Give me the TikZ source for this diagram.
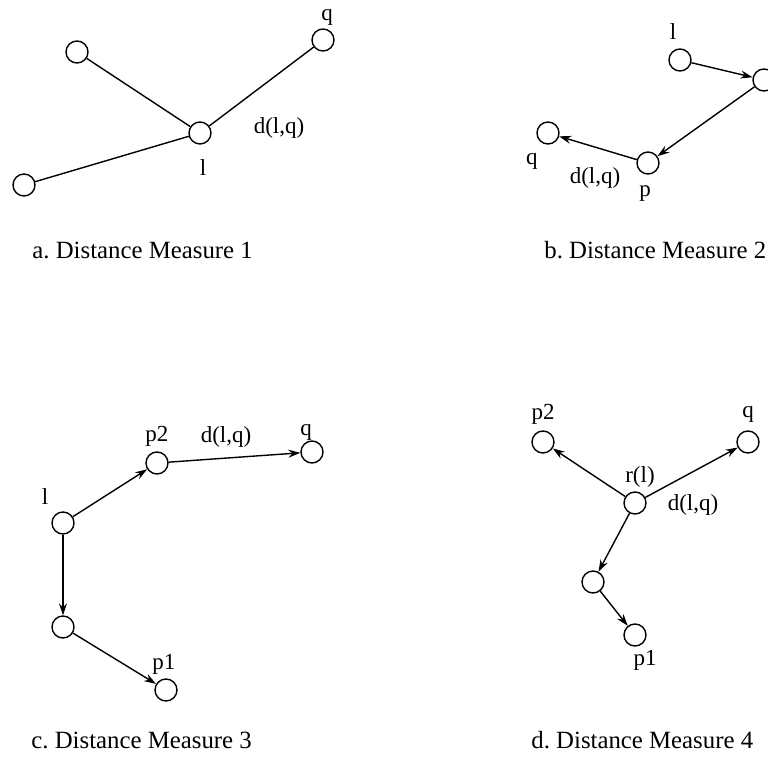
\documentclass[tikz,border=0pt]{standalone}
\usepackage{fontspec}
\setmainfont{Liberation Serif}
\usetikzlibrary{arrows.meta}

\begin{document}
\begin{tikzpicture}[x=0.5pt,y=-0.5pt,
     vert/.style={draw,circle,minimum size=11pt,inner sep=0pt,line width=0.7pt},
     lab/.style={font=\fontsize{11.5}{13}\selectfont,inner sep=0pt},
     capt/.style={font=\fontsize{12.4}{14}\selectfont,anchor=west,inner sep=0pt},
     arr/.style={line width=0.7pt,-{Stealth[length=6pt,width=4pt,inset=2pt]}}
     ]
%frame of the whole figure, the right hand circle of b is cut by it
\clip (0,0) rectangle (768,759);

%a. Distance Measure 1
\node[vert] (a1) at (77,52) {};
\node[vert] (a2) at (24,185) {};
\node[vert] (al) at (200,133) {};
\node[vert] (aq) at (323,40) {};
\node[lab] (al-t) at (203,168) {l};
\node[lab] (aq-t) at (327,17) {q};
\node[lab] (ad-t) at (279,128) {d(l,q)};
\foreach \s in {a1,a2,aq}
   \draw[line width=0.7pt] (\s) -- (al);
\node[capt] (acap) at (32,250) {a.\ Distance Measure 1};

%b. Distance Measure 2
\node[vert] (bl) at (680,60) {};
\node[vert] (bm) at (764,80) {};
\node[vert] (bp) at (648,163) {};
\node[vert] (bq) at (548,133) {};
\node[lab] (bl-t) at (673,32) {l};
\node[lab] (bp-t) at (645,194) {p};
\node[lab] (bq-t) at (532,161) {q};
\node[lab] (bd-t) at (595,178) {d(l,q)};
\foreach \s/\t in {bl/bm,bm/bp,bp/bq}
   \draw[arr] (\s) -- (\t);
\node[capt] (bcap) at (544,250) {b.\ Distance Measure 2};

%c. Distance Measure 3
\node[vert] (cl) at (63,523) {};
\node[vert] (cp2) at (157,463) {};
\node[vert] (cq) at (312,452) {};
\node[vert] (cm) at (63,627) {};
\node[vert] (cp1) at (166,690) {};
\node[lab] (cl-t) at (45,497) {l};
\node[lab] (cp2-t) at (157,436) {p2};
\node[lab] (cq-t) at (306,432) {q};
\node[lab] (cd-t) at (226,437) {d(l,q)};
\node[lab] (cp1-t) at (164,664) {p1};
\foreach \s/\t in {cl/cp2,cp2/cq,cl/cm,cm/cp1}
   \draw[arr] (\s) -- (\t);
\node[capt] (ccap) at (31,740) {c.\ Distance Measure 3};

%d. Distance Measure 4
\node[vert] (dp2) at (543,442) {};
\node[vert] (dq) at (748,442) {};
\node[vert] (dr) at (635,503) {};
\node[vert] (dm) at (593,582) {};
\node[vert] (dp1) at (635,635) {};
\node[lab] (dp2-t) at (543,414) {p2};
\node[lab] (dq-t) at (748,414) {q};
\node[lab] (dr-t) at (640,477) {r(l)};
\node[lab] (dd-t) at (693,505) {d(l,q)};
\node[lab] (dp1-t) at (645,660) {p1};
\foreach \s/\t in {dr/dp2,dr/dq,dr/dm,dm/dp1}
   \draw[arr] (\s) -- (\t);
\node[capt] (dcap) at (531,740) {d.\ Distance Measure 4};
\end{tikzpicture}
\end{document}
